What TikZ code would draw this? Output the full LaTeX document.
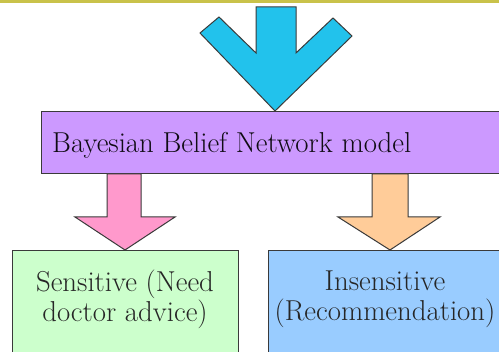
\documentclass[tikz,border=0pt]{standalone}
\definecolor{topline}{HTML}{C9C24A}
\definecolor{cyanarrow}{HTML}{22C2EC}
\definecolor{purplebox}{HTML}{CC99FF}
\definecolor{pinkarrow}{HTML}{FF99CC}
\definecolor{orangearrow}{HTML}{FFCC99}
\definecolor{greenbox}{HTML}{CCFFCC}
\definecolor{bluebox}{HTML}{99CCFF}
\definecolor{edgedark}{HTML}{3A3A3A}
\tikzset{
  shapeedge/.style={draw=edgedark, line width=1pt, line join=miter},
  boxtext/.style={font=\fontsize{28.8}{30}\selectfont, align=center, inner sep=0pt, text=black!85},
}
\begin{document}
\begin{tikzpicture}[x=1pt,y=-1pt]
\useasboundingbox (0,0) rectangle (499,352);
\clip (0,0) rectangle (499,352);
\fill[white] (0,0) rectangle (499,352);
% top rule
\fill[topline] (0,0) rectangle (499,3);
% cyan arrow
\draw[shapeedge, fill=cyanarrow] (256,7) -- (296,7) -- (296,53) -- (333,18) -- (352,36) -- (275,111) -- (200,33) -- (219,17) -- (256,53) -- cycle;
% purple box
\draw[shapeedge, fill=purplebox] (41,112) rectangle (510,174);
\node[boxtext, anchor=base west, text=black!80!purplebox!40!black] (bbn) at (52,153) {Bayesian Belief Network model};
% pink arrow
\draw[shapeedge, fill=pinkarrow] (107,174) -- (141,174) -- (141,217) -- (175,217) -- (125,250) -- (75,217) -- (107,217) -- cycle;
% orange arrow
\draw[shapeedge, fill=orangearrow] (372,174) -- (408,174) -- (408,217) -- (440,217) -- (390,250) -- (338,217) -- (372,217) -- cycle;
% lower boxes
\draw[shapeedge, fill=greenbox] (12,251) rectangle (238,360);
\draw[shapeedge, fill=bluebox] (268,251) rectangle (510,360);
\node[boxtext] (sens) at (125,299) {Sensitive (Need\\doctor advice)};
\node[boxtext] (insens) at (385,299) {Insensitive\\(Recommendation)};
\end{tikzpicture}
\end{document}
